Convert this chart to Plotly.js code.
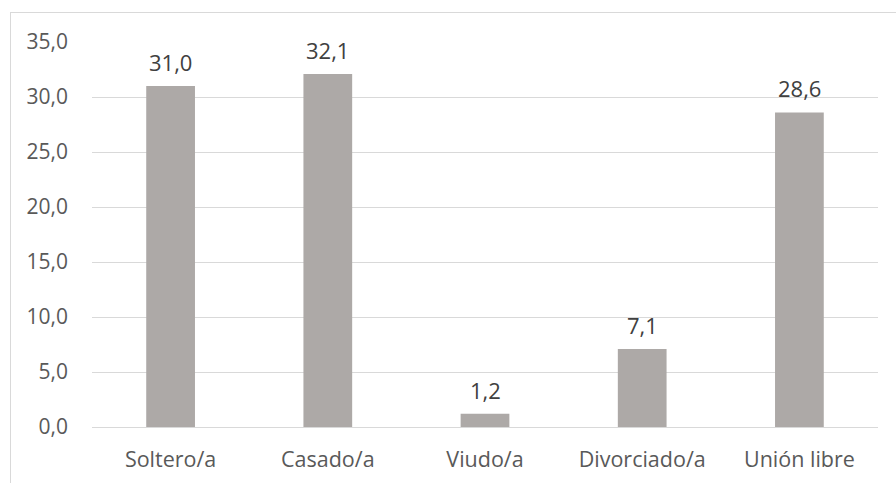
<!DOCTYPE html>
<html>
<head>
<meta charset="utf-8">
<script src="https://cdn.plot.ly/plotly-3.0.1.min.js"></script>
<style>
  body { margin: 0; background: #fff; }
  #frame { position: absolute; left: 10px; top: 12px; width: 900px; height: 480px; border: 1px solid #d9d9d9; }
  #chart { position: absolute; left: 0; top: 0; width: 896px; height: 483px; }
</style>
</head>
<body>
<div id="frame"></div>
<div id="chart"></div>
<script>
const categories = ['Soltero/a', 'Casado/a', 'Viudo/a', 'Divorciado/a', 'Unión libre'];
const values = [31.0, 32.1, 1.2, 7.1, 28.6];
const yTicks = [0, 5, 10, 15, 20, 25, 30, 35];

function fmt(v) {
    return v.toFixed(1).replace('.', ',');
}

var trace = {
    x: categories,
    y: values,
    type: 'bar',
    width: 0.31,
    marker: { color: '#ADA9A7' },
    hoverinfo: 'none'
};

// data labels above each bar
var labels = categories.map(function(c, i) {
    return {
        x: c, y: values[i], xref: 'x', yref: 'y',
        text: fmt(values[i]),
        showarrow: false,
        yanchor: 'bottom',
        yshift: 7,
        font: { family: '"Open Sans", sans-serif', size: 22, color: '#404040' }
    };
});

var layout = {
    width: 896,
    height: 483,
    margin: { l: 92, r: 18, t: 42, b: 56 },
    paper_bgcolor: 'rgba(0,0,0,0)',
    plot_bgcolor: 'rgba(0,0,0,0)',
    showlegend: false,
    font: { family: '"Open Sans", sans-serif', size: 20, color: '#595959' },
    xaxis: {
        showgrid: false,
        showline: false,
        zeroline: false,
        ticks: '',
        ticklabelstandoff: 17,
        tickfont: { size: 21.5, color: '#595959' }
    },
    yaxis: {
        range: [0, 35],
        tickvals: yTicks,
        ticktext: yTicks.map(fmt),
        gridcolor: '#d9d9d9',
        gridwidth: 1,
        zeroline: true,
        zerolinecolor: '#d9d9d9',
        zerolinewidth: 1,
        showline: false,
        ticks: '',
        ticklabelstandoff: 23,
        tickfont: { size: 21, color: '#595959' }
    },
    annotations: labels
};

Plotly.newPlot('chart', [trace], layout, { staticPlot: true });
</script>
</body>
</html>
